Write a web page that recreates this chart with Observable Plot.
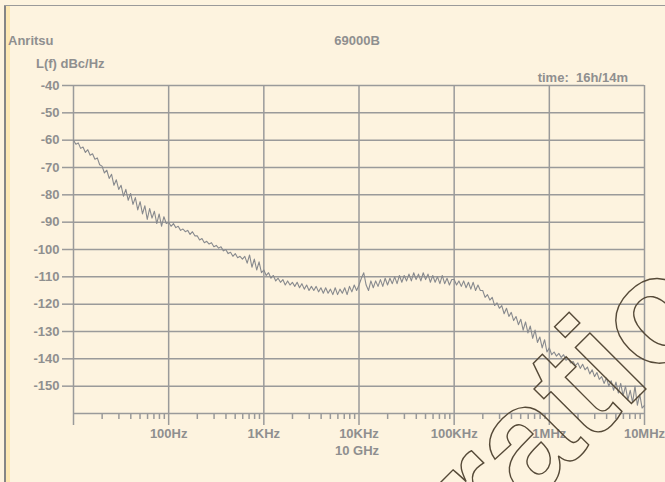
<!DOCTYPE html>
<html>
<head>
<meta charset="utf-8">
<script src="https://cdn.jsdelivr.net/npm/d3@7"></script>
<script src="https://cdn.jsdelivr.net/npm/@observablehq/plot@0.6"></script>
<style>
  html, body { margin: 0; padding: 0; background: #fdf3df; }
  #wrap { position: relative; width: 665px; height: 482px; overflow: hidden; background: #fdf3df;
          font-family: "Liberation Sans", Arial, sans-serif; font-weight: bold; color: #8f8f8f; }
  .lbl { position: absolute; font-size: 13px; white-space: nowrap; line-height: 1; }
  #leftbar { position: absolute; left: 4px; top: 5px; width: 2px; height: 477px; background: #858585; }
  #leftstripe { position: absolute; left: 6px; top: 6px; width: 4px; height: 476px; background: #fde8b3; }
  #topline { position: absolute; left: 4px; top: 5px; width: 661px; height: 1px; background: #9a9a9a; }
  #plot { position: absolute; left: 0; top: 0; }
  #wm { position: absolute; left: 0; top: 0; pointer-events: none; }
</style>
</head>
<body>
<div id="wrap">
  <div id="leftstripe"></div>
  <div id="leftbar"></div>
  <div id="topline"></div>
  <div id="plot"></div>
  <div class="lbl" style="left:8px; top:34px;">Anritsu</div>
  <div class="lbl" style="left:357px; top:34px; transform:translateX(-50%);">69000B</div>
  <div class="lbl" style="left:36px; top:57px;">L(f) dBc/Hz</div>
  <div class="lbl" style="right:37px; top:71px;">time:&nbsp; 16h/14m</div>
  <div class="lbl" id="carrier" style="left:357px; top:444px; transform:translateX(-50%);">10 GHz</div>
</div>
<script>
// ---- Data: phase noise trace, L(f) in dBc/Hz, 40 points per decade ----
const decadeStarts = [10, 100, 1e3, 1e4, 1e5, 1e6];
const pointsPerDecade = 40;
const dec10Hz = [-60, -61.5, -61, -63, -62.5, -64.5, -63.5, -65.5, -65, -67, -66.5, -69, -69.5, -72, -71, -74, -72.5, -76.5, -74.5, -78,
  -76.5, -80.5, -78, -82, -79.5, -83.5, -81, -85.5, -82.5, -87, -84, -89, -85, -88.5, -86, -90.5, -87, -91.5, -88, -90.5];
const dec100Hz = [-90, -91.5, -90.5, -92, -91.5, -93, -92.5, -93.5, -93, -94.5, -93.5, -95, -95, -96.5, -96, -97.5, -97, -98, -97.5, -99,
  -98.5, -99.5, -99, -100.5, -100, -101.5, -101, -102.5, -101.5, -103, -102.5, -103.5, -102.5, -105, -102, -106.5, -103.5, -107.5, -104.5, -108.5];
const dec1KHz = [-107.5, -109.5, -108.5, -110.5, -109.5, -111.5, -110.5, -112, -111, -113, -111.5, -113, -112, -113.5, -112, -114, -112.5, -114.5, -113, -115,
  -113.5, -115, -113.5, -115.5, -114, -116, -114, -116, -114.5, -116.5, -114, -116.5, -114.5, -116, -114, -116.5, -113.5, -115.5, -113, -115];
const dec10KHz = [-113, -110.5, -108.5, -113, -115, -111.5, -114, -111.5, -113.5, -111, -113.5, -110.5, -113, -110.5, -112.5, -110, -112.5, -109.5, -112, -109.5,
  -111.5, -109, -111.5, -108.5, -111, -109, -111.5, -108.5, -111, -109, -112, -109.5, -112, -110, -112.5, -109.5, -112.5, -110.5, -113, -111];
const dec100KHz = [-111, -113, -111.5, -113.5, -111.5, -114, -112, -114.5, -112, -115, -113, -115, -115, -117.5, -116.5, -118.5, -117.5, -120.5, -119.5, -121.5,
  -120.5, -123.5, -121.5, -124.5, -123, -126, -124.5, -127.5, -125.5, -129.5, -126.5, -130.5, -128, -132.5, -129.5, -134, -132, -136, -133, -137.5];
const dec1MHz = [-136, -138.5, -137.5, -139, -138, -139.5, -138.5, -140.5, -140, -141.5, -141, -142.5, -141.5, -143.5, -142, -144, -143, -145.5, -144, -146.5,
  -145, -147.5, -146.5, -149, -147, -150, -148, -151.5, -148.5, -152.5, -149, -153.5, -150, -155, -151.5, -156, -150, -157, -153, -158];
const endFreq = 1e7;
const endValue = -157;

// ---- Axis ticks and labels ----
const yTicks = [-40, -50, -60, -70, -80, -90, -100, -110, -120, -130, -140, -150];
const yBottom = -160;
const xMajorTicks = [10, 100, 1e3, 1e4, 1e5, 1e6, 1e7];
const xMajorLabels = ["", "100Hz", "1KHz", "10KHz", "100KHz", "1MHz", "10MHz"];
const minorMultipliers = [2, 3, 4, 5, 6, 7, 8, 9];

const decades = [dec10Hz, dec100Hz, dec1KHz, dec10KHz, dec100KHz, dec1MHz];
const trace = [];
decades.forEach((vals, k) => vals.forEach((v, i) => trace.push({f: decadeStarts[k] * Math.pow(10, i / pointsPerDecade), v})));
trace.push({f: endFreq, v: endValue});

const xMinorTicks = [];
decadeStarts.forEach(d0 => minorMultipliers.forEach(m => xMinorTicks.push(d0 * m)));
const labelMap = new Map(xMajorTicks.map((t, i) => [t, xMajorLabels[i]]));

const gridColor = "#9a9a9a";
const chart = Plot.plot({
  width: 665,
  height: 482,
  marginLeft: 73,
  marginRight: 21,
  marginTop: 85,
  marginBottom: 69,
  style: {background: "transparent", fontFamily: "'Liberation Sans', Arial, sans-serif", fontSize: "13px", fontWeight: "bold", color: "#8f8f8f", overflow: "visible"},
  x: {type: "log", domain: [10, 1e7]},
  y: {domain: [yBottom, -40]},
  marks: [
    Plot.ruleY(yTicks, {stroke: gridColor, strokeWidth: 1.5}),
    Plot.ruleY([yBottom], {stroke: gridColor, strokeWidth: 1.5}),
    Plot.ruleX(xMajorTicks, {stroke: gridColor, strokeWidth: 1.5}),
    Plot.axisY(yTicks, {tickSize: 11, tickPadding: 3, label: null, stroke: gridColor, strokeWidth: 1.5, tickFormat: d => String(d)}),
    Plot.axisX(xMajorTicks, {tickSize: 12, tickPadding: 3, label: null, stroke: gridColor, strokeWidth: 1.5, tickFormat: d => labelMap.get(d)}),
    Plot.axisX(xMinorTicks, {tickSize: 6, label: null, stroke: gridColor, strokeWidth: 1.5, tickFormat: () => ""}),
    Plot.line(trace, {x: "f", y: "v", stroke: "#888a8e", strokeWidth: 1.1})
  ]
});
document.getElementById("plot").appendChild(chart);

// ---- Watermark (outlined text) ----
const wm = d3.select("#wrap").append("svg").attr("id", "wm").attr("width", 665).attr("height", 482);
wm.append("text")
  .attr("transform", "translate(783,252) rotate(-45)")
  .attr("text-anchor", "end")
  .attr("font-family", "'Liberation Sans', Arial, sans-serif")
  .attr("font-weight", "bold")
  .attr("font-size", 150)
  .attr("fill", "none")
  .attr("stroke", "#564a38")
  .attr("stroke-width", 1.4)
  .text("Illustration");
</script>
</body>
</html>
